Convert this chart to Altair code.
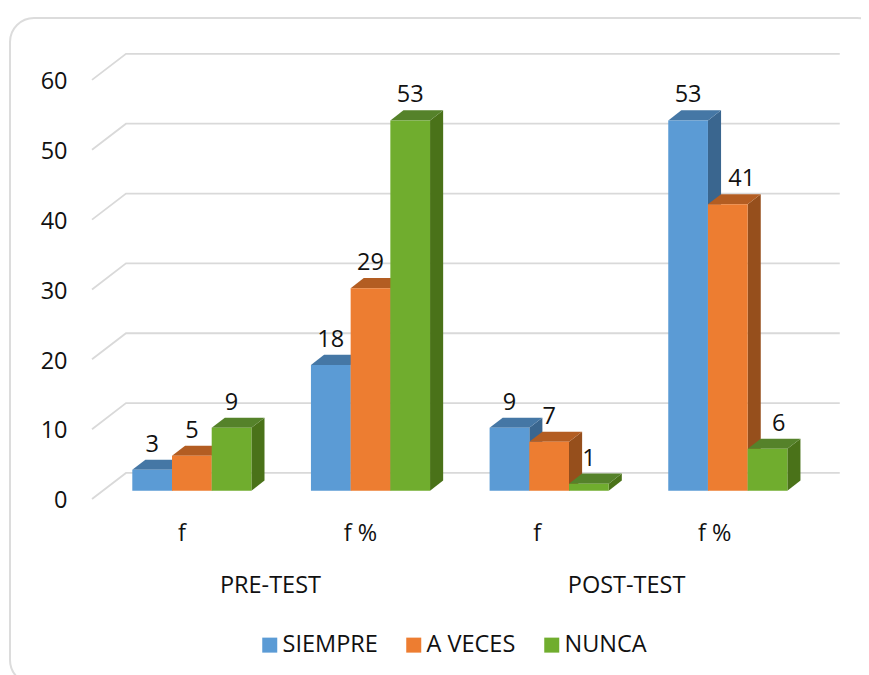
import altair as alt
import pandas as pd

# ---- values ----
phases = ["PRE-TEST", "POST-TEST"]
columns = ["f", "f %", "f", "f %"]
series = ["SIEMPRE", "A VECES", "NUNCA"]
siempre = [3, 18, 9, 53]
a_veces = [5, 29, 7, 41]
nunca = [9, 53, 1, 6]
ticks = [0, 10, 20, 30, 40, 50, 60]

front = ["#5B9BD5", "#ED7D31", "#70AD2E"]
top = ["#4577A5", "#B35D22", "#55822A"]
side = ["#3A668F", "#964F1C", "#4A7219"]

FONT = "Open Sans"
INK = "#111111"
FS = 23.5

# scale units: x in bar widths, y in value units
GROUP_STEP = 4.5
DX, DY = 0.33, 1.45
GRID_FRONT = (-1.015, -1.19)
GRID_BACK = (-0.159, 2.54)
GRID_END = 17.82
LABEL_UP = 3.6
NUDGE = {(3, 1): 0.35, (3, 2): 0.28}

values = [siempre, a_veces, nunca]
bars, sides, tops = [], [], []
for s, name in enumerate(series):
    for g in range(4):
        v = values[s][g]
        x0 = g * GROUP_STEP + s
        x1 = x0 + 1
        bid = f"{s}-{g}"
        bars.append(dict(series=name, x0=x0, x1=x1, v=v, base=0, id=bid,
                         cx=x0 + 0.5 + NUDGE.get((g, s), 0), ly=v + LABEL_UP))
        sides += [
            dict(id=bid, c=side[s], x=x1, y=v, y2=0),
            dict(id=bid, c=side[s], x=x1 + DX, y=v + DY, y2=DY),
        ]
        tops += [
            dict(id=bid, c=top[s], y=v, x=x0, x2=x1),
            dict(id=bid, c=top[s], y=v + DY, x=x0 + DX, x2=x1 + DX),
        ]

grid = []
for t in ticks:
    grid += [
        dict(t=t, x=GRID_FRONT[0], y=t + GRID_FRONT[1]),
        dict(t=t, x=GRID_BACK[0], y=t + GRID_BACK[1]),
        dict(t=t, x=GRID_END, y=t + GRID_BACK[1]),
    ]

bars = pd.DataFrame(bars)
sides = pd.DataFrame(sides)
tops = pd.DataFrame(tops)
grid = pd.DataFrame(grid)
cats = pd.DataFrame(dict(label=columns, x=[1.25, 5.75, 10.2, 14.67], y=[-6.2] * 4))
phase_df = pd.DataFrame(dict(label=phases, x=[3.48, 12.45], y=[-13.7] * 2))

xs = alt.Scale(domain=[-3.131, 18.355], nice=False, zero=False)
ys = alt.Scale(domain=[-26.38, 69.1], nice=False, zero=False)
y_axis = alt.Axis(
    values=ticks, orient="left", offset=-59, domain=False, ticks=False, grid=False,
    labelFont=FONT, labelFontSize=FS, labelColor=INK, labelPadding=0, labelOffset=10,
    zindex=1, title=None,
)
X = lambda f="x": alt.X(f"{f}:Q", scale=xs, axis=None)
Y = lambda f="y": alt.Y(f"{f}:Q", scale=ys, axis=y_axis)

frame = alt.Chart(pd.DataFrame({"a": [0]})).mark_rect(
    fill="white", stroke="#DCDCDC", strokeWidth=2, cornerRadius=24
).encode(x=alt.value(2), x2=alt.value(873), y=alt.value(10), y2=alt.value(676))

grid_l = alt.Chart(grid).mark_line(stroke="#D9D9D9", strokeWidth=1.8).encode(
    x=X(), y=Y(), detail="t:N",
)
side_l = alt.Chart(sides).mark_area(opacity=1).encode(
    x=X(), y=Y(), y2="y2:Q",
    color=alt.Color("c:N", scale=None), detail="id:N",
)
top_l = alt.Chart(tops).mark_area(orient="horizontal", opacity=1).encode(
    y=Y(), x=X(), x2="x2:Q",
    color=alt.Color("c:N", scale=None), detail="id:N",
)
front_l = alt.Chart(bars).mark_rect(opacity=1).encode(
    x=X("x0"), x2="x1:Q", y=Y("v"), y2="base:Q",
    color=alt.Color("series:N", scale=alt.Scale(domain=series, range=front), title=None,
                    legend=alt.Legend(
                        orient="none", legendX=250, legendY=625, direction="horizontal",
                        columns=3, symbolType="square", symbolSize=225, symbolStrokeWidth=0,
                        symbolOpacity=1, labelFont=FONT, labelFontSize=FS, labelColor=INK,
                        labelOffset=1, columnPadding=24,
                    )),
)
val_l = alt.Chart(bars).mark_text(font=FONT, fontSize=FS, color=INK, baseline="middle").encode(
    x=X("cx"), y=Y("ly"), text="v:Q",
)
cat_l = alt.Chart(cats).mark_text(font=FONT, fontSize=FS, color=INK, baseline="middle").encode(
    x=X(), y=Y(), text="label:N",
)
phase_l = alt.Chart(phase_df).mark_text(font=FONT, fontSize=FS, color=INK, baseline="middle").encode(
    x=X(), y=Y(), text="label:N",
)

chart = alt.layer(
    frame, grid_l, side_l, top_l, front_l, val_l, cat_l, phase_l
).resolve_scale(color="independent").properties(
    width=853, height=667, padding=0,
    autosize=alt.AutoSizeParams(type="none"),
    background="white",
).configure_view(stroke=None)

chart.save("out.html", embed_options={"renderer": "svg", "actions": False})
